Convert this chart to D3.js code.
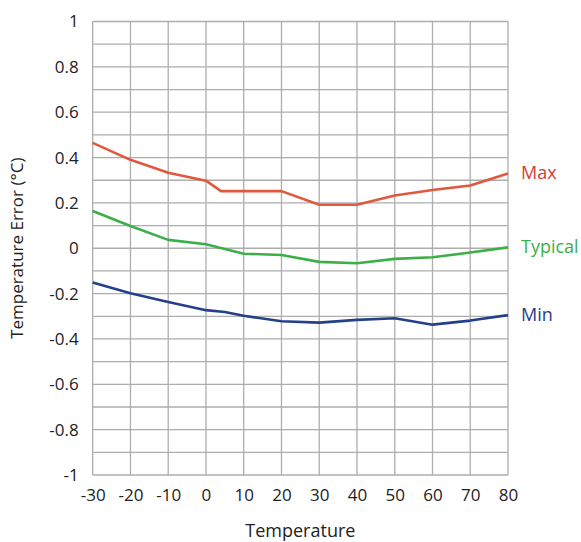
<!DOCTYPE html>
<html>
<head>
<meta charset="utf-8">
<script src="https://cdn.jsdelivr.net/npm/d3@7"></script>
<style>
  body { margin: 0; background: #fff; }
  text { font-family: "Open Sans", "Noto Sans", sans-serif; }
</style>
</head>
<body>
<div id="chart"></div>
<script>
const temps = [-30, -20, -10, 0, 4, 10, 20, 30, 40, 50, 60, 70, 80];
const maxErr = [0.465, 0.39, 0.333, 0.298, 0.252, 0.252, 0.252, 0.192, 0.192, 0.233, 0.257, 0.277, 0.33];
const typTemps = [-30, -20, -10, 0, 10, 20, 30, 40, 50, 60, 70, 80];
const typErr = [0.164, 0.098, 0.037, 0.018, -0.024, -0.03, -0.06, -0.066, -0.047, -0.04, -0.019, 0.004];
const minTemps = [-30, -20, -10, 0, 5, 10, 20, 30, 40, 50, 60, 70, 80];
const minErr = [-0.151, -0.198, -0.237, -0.273, -0.281, -0.298, -0.322, -0.328, -0.316, -0.309, -0.337, -0.319, -0.295];
const xTicks = [-30, -20, -10, 0, 10, 20, 30, 40, 50, 60, 70, 80];
const yTicks = [-1, -0.8, -0.6, -0.4, -0.2, 0, 0.2, 0.4, 0.6, 0.8, 1];

const width = 581, height = 542;
const margin = {top: 21.5, right: 73, bottom: 67, left: 92.7};

const svg = d3.select("#chart").append("svg")
    .attr("width", width)
    .attr("height", height);

const x = d3.scaleLinear().domain([-30, 80]).range([margin.left, width - margin.right]);
const y = d3.scaleLinear().domain([-1, 1]).range([height - margin.bottom, margin.top]);

// grid: every 10 degrees, every 0.1 error
const grid = svg.append("g").attr("stroke", "#adadad").attr("stroke-width", 1.3);
grid.selectAll(".v").data(xTicks).join("line")
    .attr("x1", d => x(d)).attr("x2", d => x(d))
    .attr("y1", y(-1)).attr("y2", y(1));
grid.selectAll(".h").data(d3.range(-10, 11).map(d => d / 10)).join("line")
    .attr("x1", x(-30)).attr("x2", x(80))
    .attr("y1", d => y(d)).attr("y2", d => y(d));

// axes (plain hyphen minus, like the original)
const xAxis = svg.append("g")
    .attr("transform", `translate(0,${y(-1)})`)
    .call(d3.axisBottom(x).tickValues(xTicks).tickSize(0).tickPadding(14).tickFormat(d => String(d)));
xAxis.select(".domain").remove();
xAxis.selectAll("text").attr("font-size", 17).attr("fill", "#222")
    .style("font-family", "'Open Sans', 'Noto Sans', sans-serif");

const yAxis = svg.append("g")
    .attr("transform", `translate(${x(-30)},0)`)
    .call(d3.axisLeft(y).tickValues(yTicks).tickSize(0).tickPadding(14).tickFormat(d => String(d)));
yAxis.select(".domain").remove();
yAxis.selectAll("text").attr("font-size", 17).attr("fill", "#222")
    .style("font-family", "'Open Sans', 'Noto Sans', sans-serif");

svg.append("text")
    .attr("x", (x(-30) + x(80)) / 2).attr("y", 537)
    .attr("text-anchor", "middle").attr("font-size", 18).attr("fill", "#222")
    .text("Temperature");

svg.append("text")
    .attr("transform", `translate(23,${(y(1) + y(-1)) / 2}) rotate(-90)`)
    .attr("text-anchor", "middle").attr("font-size", 17).attr("fill", "#222")
    .text("Temperature Error (°C)");

// series
const series = [
    {name: "Max", xs: temps, ys: maxErr, color: "#e0583d", text: "#d93a36"},
    {name: "Typical", xs: typTemps, ys: typErr, color: "#3daf48", text: "#3daf48"},
    {name: "Min", xs: minTemps, ys: minErr, color: "#24408a", text: "#24408a"}
];

const line = d3.line().x(d => x(d[0])).y(d => y(d[1]));

svg.append("g").selectAll("path").data(series).join("path")
    .attr("fill", "none")
    .attr("stroke", d => d.color)
    .attr("stroke-width", 2.6)
    .attr("stroke-linejoin", "round")
    .attr("d", d => line(d3.zip(d.xs, d.ys)));

svg.append("g").selectAll("text").data(series).join("text")
    .attr("x", x(80) + 13)
    .attr("y", d => y(d.ys[d.ys.length - 1]) + 6)
    .attr("font-size", 18)
    .attr("fill", d => d.text)
    .text(d => d.name);
</script>
</body>
</html>
